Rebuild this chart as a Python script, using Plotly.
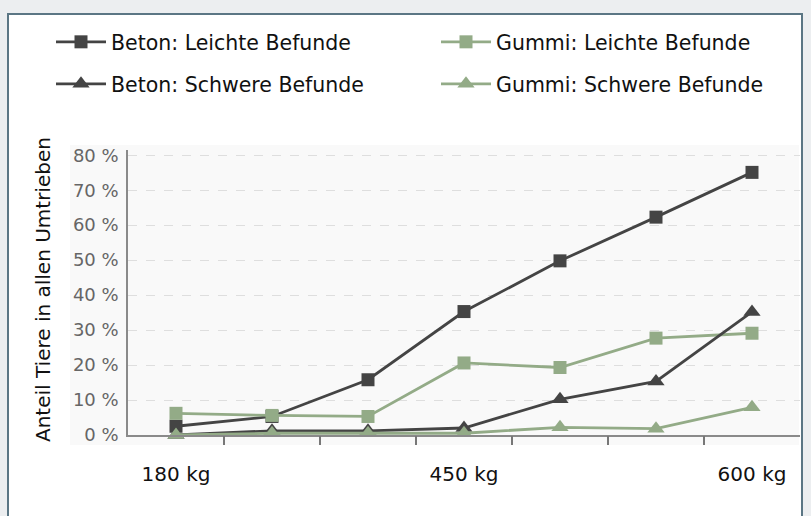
import plotly.graph_objects as go

# ---- data ----
weight_labels = ["180 kg", "", "", "450 kg", "", "", "600 kg"]
x_idx = list(range(len(weight_labels)))
beton_leicht = [2.5, 5.3, 15.8, 35.3, 49.8, 62.3, 75.1]
gummi_leicht = [6.2, 5.6, 5.3, 20.6, 19.3, 27.7, 29.1]
beton_schwer = [0.0, 1.2, 1.2, 2.0, 10.2, 15.3, 35.2]
gummi_schwer = [0.0, 0.5, 0.5, 0.5, 2.2, 1.8, 7.9]
y_ticks = [0, 10, 20, 30, 40, 50, 60, 70, 80]
y_ticktext = [f"{v} %" for v in y_ticks]

DARK = "#444444"
GREEN = "#93ab87"

W, H = 811, 516
L, R, T, B = 128, 11, 150, 81
PW, PH = W - L - R, H - T - B


def px_x(p):
    return (p - L) / PW


def px_y(p):
    return (H - B - p) / PH


fig = go.Figure()
series = [
    ("Beton: Leichte Befunde", beton_leicht, DARK, "square", 13, "legend"),
    ("Gummi: Leichte Befunde", gummi_leicht, GREEN, "square", 13, "legend"),
    ("Beton: Schwere Befunde", beton_schwer, DARK, "triangle-up", 15, "legend2"),
    ("Gummi: Schwere Befunde", gummi_schwer, GREEN, "triangle-up", 15, "legend2"),
]
for name, vals, col, sym, size, leg in series:
    fig.add_trace(go.Scatter(
        x=x_idx, y=vals, name=name, mode="lines+markers",
        line=dict(color=col, width=2.8),
        marker=dict(symbol=sym, size=size, color=col, line=dict(width=0)),
        legend=leg, cliponaxis=False,
    ))

# axis with boundary ticks (no labels)
fig.add_trace(go.Scatter(x=[x_idx[0]], y=[None], xaxis="x2", showlegend=False,
                         hoverinfo="skip"))

legend_common = dict(
    orientation="h", xanchor="left", yanchor="middle",
    font=dict(family="DejaVu Sans", size=20.5, color="#111111"),
    itemwidth=50, entrywidth=320, entrywidthmode="pixels",
    bgcolor="rgba(0,0,0,0)", borderwidth=0,
)

fig.update_layout(
    width=W, height=H,
    margin=dict(l=L, r=R, t=T, b=B, autoexpand=False),
    paper_bgcolor="#eceef0",
    plot_bgcolor="rgba(0,0,0,0)",
    legend=dict(x=px_x(51), y=px_y(42), **legend_common),
    legend2=dict(x=px_x(51), y=px_y(84), **legend_common),
    xaxis=dict(
        range=[-0.5, len(weight_labels) - 0.5],
        tickmode="array", tickvals=x_idx, ticktext=weight_labels,
        ticks="", showgrid=False, zeroline=False,
        showline=True, linecolor="#8a8a8a", linewidth=2,
        tickfont=dict(family="DejaVu Sans", size=20, color="#111111"),
        ticklabelstandoff=20, fixedrange=True,
    ),
    xaxis2=dict(
        overlaying="x", anchor="y", side="bottom",
        range=[-0.5, len(weight_labels) - 0.5],
        tickmode="array",
        tickvals=[i + 0.5 for i in x_idx[:-1]],
        ticktext=["" for _ in x_idx[:-1]],
        ticks="outside", ticklen=9, tickwidth=1.5, tickcolor="#777777",
        showgrid=False, zeroline=False, showline=False,
    ),
    yaxis=dict(
        range=[0, 81.5], tickmode="array", tickvals=y_ticks, ticktext=y_ticktext,
        showgrid=True, gridcolor="#dedede", griddash="dash", gridwidth=1,
        zeroline=False, showline=True, linecolor="#8a8a8a", linewidth=1.5,
        tickfont=dict(family="DejaVu Sans", size=18, color="#666666"),
        ticks="", ticklabelstandoff=4,
    ),
    shapes=[
        dict(type="rect", xref="paper", yref="paper", layer="below",
             x0=px_x(8), x1=px_x(802), y0=px_y(14), y1=px_y(530),
             fillcolor="#ffffff", line=dict(color="#5b7684", width=2)),
        dict(type="rect", xref="paper", yref="paper", layer="below",
             x0=px_x(70), x1=px_x(799), y0=px_y(145), y1=px_y(445),
             fillcolor="#f9f9f9", line=dict(width=0)),
    ],
    annotations=[
        dict(text="Anteil Tiere in allen Umtrieben", textangle=-90,
             xref="paper", yref="paper", x=px_x(43), y=px_y(290),
             xanchor="center", yanchor="middle", showarrow=False,
             font=dict(family="DejaVu Sans", size=20, color="#111111")),
    ],
    showlegend=True,
)

fig.write_html(
    "out.html",
    config={"displayModeBar": False},
    post_script="document.body.style.margin='0px';document.body.style.background='#eceef0';",
)
